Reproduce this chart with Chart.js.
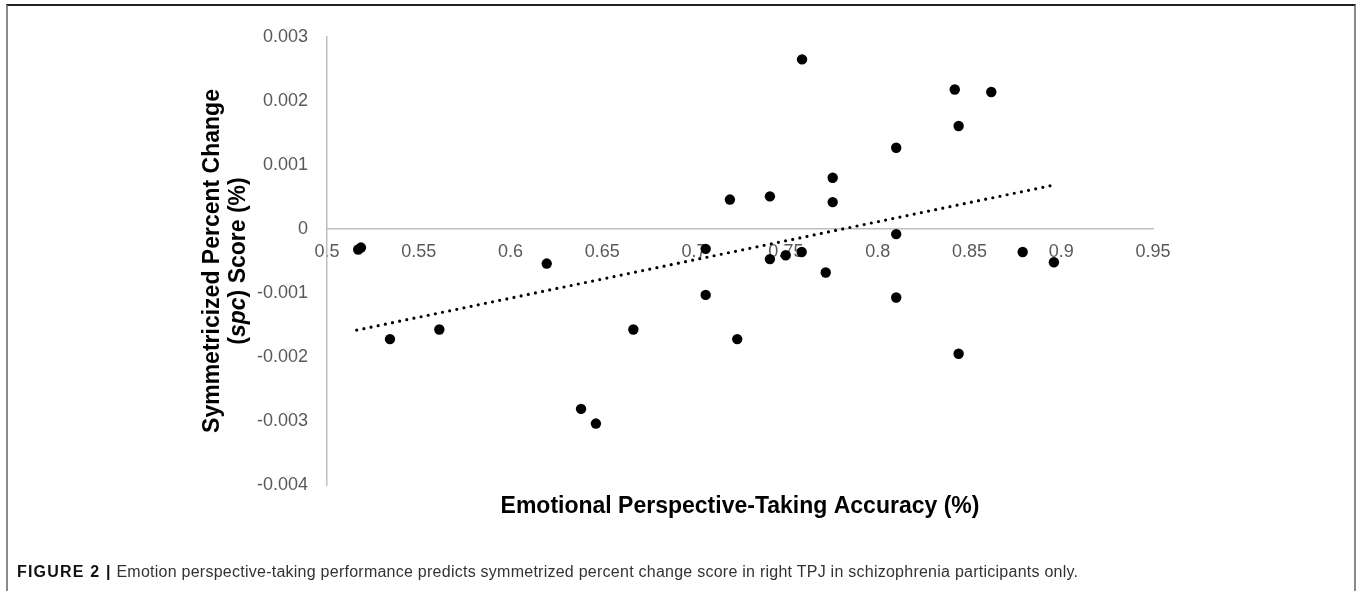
<!DOCTYPE html>
<html>
<head>
<meta charset="utf-8">
<script src="https://cdn.jsdelivr.net/npm/chart.js@4.4.0/dist/chart.umd.min.js"></script>
<style>
  body { margin: 0; background: #fff; }
  #wrap { position: relative; width: 1358px; height: 591px; overflow: hidden; background: #fff; }
  #frame { position: absolute; left: 6px; top: 4px; width: 1346px; height: 620px;
           border-top: 2px solid #222; border-left: 2px solid #8a8a8a; border-right: 2px solid #8a8a8a; }
  #chart { position: absolute; left: 0; top: 0; }
  #caption { position: absolute; left: 17px; top: 563px; white-space: nowrap;
             font: 16px "Liberation Sans", Arial, sans-serif; color: #333; letter-spacing: 0.25px; }
  #caption b { color: #111; letter-spacing: 1.2px; }
</style>
</head>
<body>
<div id="wrap">
  <div id="frame"></div>
  <canvas id="chart" width="1358" height="591"></canvas>
  <div id="caption"><b>FIGURE 2 |</b> Emotion perspective-taking performance predicts symmetrized percent change score in right TPJ in schizophrenia participants only.</div>
</div>
<script>
//Data//
const accuracy = [0.517, 0.5185, 0.5343, 0.5612, 0.6197, 0.6384, 0.6465, 0.6669, 0.7063, 0.7063,
  0.7195, 0.7235, 0.7413, 0.7413, 0.7499, 0.7586, 0.7588, 0.7717, 0.7755, 0.7755,
  0.8101, 0.8101, 0.8101, 0.842, 0.8441, 0.8441, 0.8619, 0.879, 0.896];
const spcScore = [-0.00032, -0.00029, -0.00172, -0.00157, -0.00054, -0.00281, -0.00304, -0.00157, -0.00031, -0.00103,
  0.00046, -0.00172, 0.00051, -0.00047, -0.00041, -0.00036, 0.00265, -0.00068, 0.0008, 0.00042,
  0.00127, -0.00008, -0.00107, 0.00218, 0.00161, -0.00195, 0.00214, -0.00036, -0.00052];
const trendX = [0.5162, 0.8948];
const trendY = [-0.00158, 0.00068];
const xTicks = [0.5, 0.55, 0.6, 0.65, 0.7, 0.75, 0.8, 0.85, 0.9, 0.95];
const xTickLabels = ["0.5", "0.55", "0.6", "0.65", "0.7", "0.75", "0.8", "0.85", "0.9", "0.95"];
const yTicks = [-0.004, -0.003, -0.002, -0.001, 0, 0.001, 0.002, 0.003];
const yTickLabels = ["-0.004", "-0.003", "-0.002", "-0.001", "0", "0.001", "0.002", "0.003"];
const xTitle = "Emotional Perspective-Taking Accuracy (%)";
//Akhir Data//

const tickFont = { family: '"Liberation Sans", Arial, sans-serif', size: 18 };
const titleFont = '"Liberation Sans", Arial, sans-serif';

// axis titles, the y one has "spc" in italic
const axisTitles = {
  id: "axisTitles",
  afterDraw(chart) {
    const { ctx, chartArea } = chart;
    ctx.save();
    ctx.fillStyle = "#000";
    ctx.textBaseline = "alphabetic";
    ctx.font = "bold 23px " + titleFont;
    ctx.textAlign = "center";
    ctx.fillText(xTitle, (chartArea.left + chartArea.right) / 2, 513);

    const cy = (chartArea.top + chartArea.bottom) / 2;
    ctx.translate(0, cy);
    ctx.rotate(-Math.PI / 2);
    ctx.fillText("Symmetricized Percent Change", 0, 218.5);

    const parts = [["(", "bold"], ["spc", "italic bold"], [") Score (%)", "bold"]];
    let total = 0;
    parts.forEach((p) => { ctx.font = p[1] + " 23px " + titleFont; total += ctx.measureText(p[0]).width; });
    let u = -total / 2;
    ctx.textAlign = "left";
    parts.forEach((p) => {
      ctx.font = p[1] + " 23px " + titleFont;
      ctx.fillText(p[0], u, 244.5);
      u += ctx.measureText(p[0]).width;
    });
    ctx.restore();
  },
};

const data = {
  datasets: [
    {
      type: "scatter",
      data: accuracy.map((v, i) => ({ x: v, y: spcScore[i] })),
      backgroundColor: "#000",
      borderColor: "#000",
      pointRadius: 5.2,
      pointBorderWidth: 0,
    },
    {
      type: "line",
      data: trendX.map((v, i) => ({ x: v, y: trendY[i] })),
      borderColor: "#000",
      borderWidth: 3.2,
      borderDash: [0, 7.3],
      borderCapStyle: "round",
      pointRadius: 0,
      fill: false,
    },
  ],
};

const config = {
  type: "scatter",
  data: data,
  options: {
    responsive: false,
    animation: false,
    layout: { padding: { left: 247, right: 205, top: 37, bottom: 106 } },
    plugins: {
      legend: { display: false },
      tooltip: { enabled: false },
    },
    scales: {
      x: {
        type: "linear",
        min: 0.5,
        max: 0.95,
        position: { y: 0 },
        afterBuildTicks: (s) => { s.ticks = xTicks.map((v) => ({ value: v })); },
        ticks: {
          callback: (v, i) => xTickLabels[i],
          color: "#595959",
          font: tickFont,
          padding: 12,
          maxRotation: 0,
          autoSkip: false,
        },
        grid: { color: "rgba(0,0,0,0)", drawTicks: false },
        border: { display: true, color: "#bfbfbf", width: 1.5 },
      },
      y: {
        type: "linear",
        min: -0.004,
        max: 0.003,
        position: "left",
        afterBuildTicks: (s) => { s.ticks = yTicks.map((v) => ({ value: v })); },
        afterFit: (s) => { s.width = 80; },
        ticks: {
          callback: (v, i) => yTickLabels[i],
          color: "#595959",
          font: tickFont,
          padding: 19,
          autoSkip: false,
        },
        grid: { color: "rgba(0,0,0,0)", drawTicks: false },
        border: { display: true, color: "#bfbfbf", width: 1.5 },
      },
    },
  },
  plugins: [axisTitles],
};

const spcChart = new Chart(document.getElementById("chart").getContext("2d"), config);
</script>
</body>
</html>
